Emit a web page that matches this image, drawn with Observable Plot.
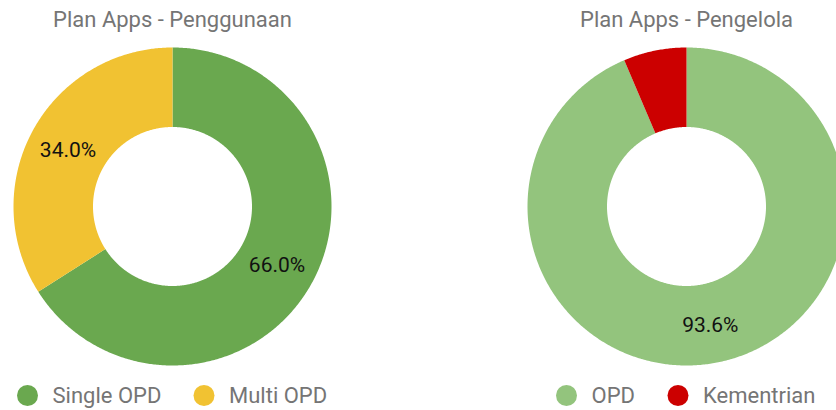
<!DOCTYPE html>
<html>
<head>
<meta charset="utf-8">
<script src="https://cdn.jsdelivr.net/npm/d3@7"></script>
<script src="https://cdn.jsdelivr.net/npm/@observablehq/plot@0.6"></script>
<style>
  html, body { margin: 0; padding: 0; background: #fff; }
  #chart { width: 836px; height: 410px; overflow: hidden; }
</style>
</head>
<body>
<div id="chart"></div>
<script>
// ---- data ----
const leftTitle = "Plan Apps - Penggunaan";
const leftCategories = ["Single OPD", "Multi OPD"];
const leftValues = [66.0, 34.0];
const leftColors = ["#6aa84f", "#f1c232"];

const rightTitle = "Plan Apps - Pengelola";
const rightCategories = ["OPD", "Kementrian"];
const rightValues = [93.6, 6.4];
const rightColors = ["#93c47d", "#cc0000"];

// ---- layout (pixels) ----
const W = 836, H = 410;
const cy = 206, R = 159, r = 79.5;
const charts = [
  {title: leftTitle, cats: leftCategories, vals: leftValues, cx: 172, legendDots: [27, 203.5]},
  {title: rightTitle, cats: rightCategories, vals: rightValues, cx: 686, legendDots: [566, 677.5]}
];
const legendY = 395, legendTextGap = 25;

const polys = [], labels = [], legendItems = [], titles = [];
charts.forEach(ch => {
  const total = d3.sum(ch.vals);
  let acc = 0;
  ch.vals.forEach((v, i) => {
    const a0 = acc / total * 2 * Math.PI;
    acc += v;
    const a1 = acc / total * 2 * Math.PI;
    const n = Math.max(2, Math.ceil((a1 - a0) / (Math.PI / 360)));
    const pts = [];
    for (let k = 0; k <= n; k++) {
      const a = a0 + (a1 - a0) * k / n;
      pts.push({x: ch.cx + R * Math.sin(a), y: cy - R * Math.cos(a)});
    }
    for (let k = n; k >= 0; k--) {
      const a = a0 + (a1 - a0) * k / n;
      pts.push({x: ch.cx + r * Math.sin(a), y: cy - r * Math.cos(a)});
    }
    pts.forEach(p => polys.push({...p, cat: ch.cats[i]}));
    const am = (a0 + a1) / 2, rm = (R + r) / 2;
    if (v / total >= 0.1) {
      labels.push({x: ch.cx + rm * Math.sin(am), y: cy - rm * Math.cos(am), text: (v / total * 100).toFixed(1) + "%"});
    }
    legendItems.push({x: ch.legendDots[i], y: legendY, cat: ch.cats[i]});
  });
  titles.push({x: ch.cx, y: 19, text: ch.title});
});

const chart = Plot.plot({
  width: W,
  height: H,
  margin: 0,
  x: {domain: [0, W], range: [0, W], axis: null},
  y: {domain: [0, H], range: [0, H], axis: null},
  color: {domain: [...leftCategories, ...rightCategories], range: [...leftColors, ...rightColors]},
  style: {fontFamily: "Roboto, sans-serif", background: "#fff", overflow: "hidden"},
  marks: [
    Plot.line(polys, {x: "x", y: "y", z: "cat", fill: "cat", stroke: "none", curve: "linear"}),
    Plot.text(labels, {x: "x", y: "y", dy: 1.5, text: "text", fill: "#111", fontSize: 21}),
    Plot.text(titles, {x: "x", y: "y", text: "text", fill: "#757575", fontSize: 22}),
    Plot.dot(legendItems, {x: "x", y: "y", r: 10.5, fill: "cat", stroke: "none"}),
    Plot.text(legendItems, {x: d => d.x + legendTextGap, y: "y", text: "cat", textAnchor: "start", fill: "#757575", fontSize: 22})
  ]
});
document.getElementById("chart").appendChild(chart);
</script>
</body>
</html>
